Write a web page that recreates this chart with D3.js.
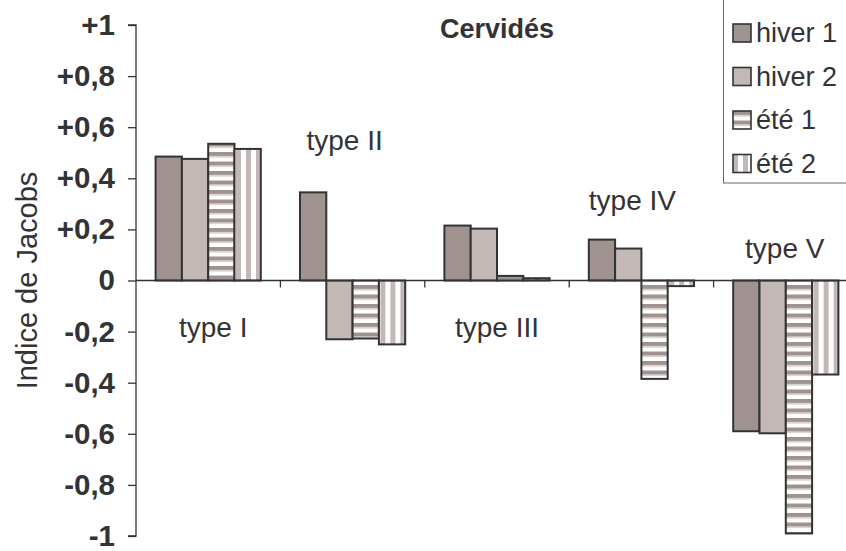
<!DOCTYPE html>
<html>
<head>
<meta charset="utf-8">
<script src="https://cdn.jsdelivr.net/npm/d3@7"></script>
<style>
  body { margin: 0; background: #fff; }
  svg { display: block; font-family: "Liberation Sans", Arial, sans-serif; }
</style>
</head>
<body>
<svg id="chart" width="846" height="551"></svg>
<script>
// categories and series
const categories = ["type I", "type II", "type III", "type IV", "type V"];
const series     = ["hiver 1", "hiver 2", "été 1", "été 2"];

// Jacobs index per category, one array per series
const hiver1 = [0.485, 0.345, 0.215, 0.160, -0.590];
const hiver2 = [0.476, -0.230, 0.203, 0.125, -0.598];
const ete1   = [0.535, -0.227, 0.018, -0.385, -0.990];
const ete2   = [0.515, -0.250, 0.009, -0.022, -0.368];

const yTicks      = [1, 0.8, 0.6, 0.4, 0.2, 0, -0.2, -0.4, -0.6, -0.8, -1];
const yTickLabels = ["+1", "+0,8", "+0,6", "+0,4", "+0,2", "0", "-0,2", "-0,4", "-0,6", "-0,8", "-1"];

// where the "type" annotation sits, in data units
const labelValue = [-0.22, 0.51, -0.22, 0.275, 0.09];
const labelShift = [5, -8, 0, -9, -1];

const values = [hiver1, hiver2, ete1, ete2];
const fills  = ["#a0938f", "#c3b8b5", "url(#hstripe)", "url(#vstripe)"];

const svg = d3.select("#chart");
const ink = "#333336";

const x = d3.scaleBand().domain(categories).range([136, 858]);
const xs = d3.scaleBand().domain(series).range([0, x.bandwidth()]).paddingOuter(0.745);
const y = d3.scaleLinear().domain([-1, 1]).range([536, 25]);

// patterns
const defs = svg.append("defs");
let hp = defs.append("pattern").attr("id", "hstripe")
    .attr("patternUnits", "userSpaceOnUse").attr("width", 10).attr("height", 9.5);
hp.append("rect").attr("width", 10).attr("height", 9.5).attr("fill", "#fff");
hp.append("rect").attr("y", 0).attr("width", 10).attr("height", 4).attr("fill", "#a0938f");
hp.append("rect").attr("y", 4).attr("width", 10).attr("height", 1.5).attr("fill", "#d4cbc8");

let vp = defs.append("pattern").attr("id", "vstripe")
    .attr("patternUnits", "userSpaceOnUse").attr("width", 10).attr("height", 10);
vp.append("rect").attr("width", 10).attr("height", 10).attr("fill", "#fff");
vp.append("rect").attr("x", 0).attr("width", 5).attr("height", 10).attr("fill", "#c3b8b5");

// bars
categories.forEach((c, ci) => {
    svg.append("g")
        .attr("transform", "translate(" + x(c) + ",0)")
        .selectAll("rect")
        .data(series)
        .enter()
        .append("rect")
        .attr("x", s => xs(s))
        .attr("width", xs.bandwidth())
        .attr("y", (s, si) => y(Math.max(0, values[si][ci])))
        .attr("height", (s, si) => Math.abs(y(values[si][ci]) - y(0)))
        .attr("fill", (s, si) => fills[si])
        .attr("stroke", ink)
        .attr("stroke-width", 2);
});

// zero line and category ticks
svg.append("line")
    .attr("x1", 136).attr("x2", 846)
    .attr("y1", y(0)).attr("y2", y(0))
    .attr("stroke", ink).attr("stroke-width", 1.3);
svg.selectAll(".ctick")
    .data(categories.slice(1))
    .enter()
    .append("line")
    .attr("x1", d => x(d)).attr("x2", d => x(d))
    .attr("y1", y(0)).attr("y2", y(0) + 7)
    .attr("stroke", ink).attr("stroke-width", 1.3);

// y axis
let yAxis = svg.append("g")
    .attr("transform", "translate(136,0)")
    .call(d3.axisLeft(y).tickValues(yTicks).tickSize(8).tickPadding(13)
        .tickFormat((d, i) => yTickLabels[i]));
yAxis.select(".domain").attr("stroke", ink).attr("stroke-width", 1.3).attr("d", "M-8," + y(1) + "H0V" + y(-1) + "H-8");
yAxis.selectAll(".tick line").attr("stroke", ink).attr("stroke-width", 1.3);
yAxis.selectAll(".tick text")
    .attr("fill", ink)
    .attr("font-size", 29.5)
    .attr("font-weight", "bold")
    .attr("font-family", "Liberation Sans, Arial, sans-serif");

svg.append("text")
    .attr("transform", "translate(37," + y(0) + ") rotate(-90)")
    .attr("text-anchor", "middle")
    .attr("font-size", 29)
    .attr("fill", ink)
    .text("Indice de Jacobs");

// title
svg.append("text")
    .attr("x", 497).attr("y", 38)
    .attr("text-anchor", "middle")
    .attr("font-size", 27)
    .attr("font-weight", "bold")
    .attr("fill", ink)
    .text("Cervidés");

// type labels
svg.selectAll(".tlabel")
    .data(categories)
    .enter()
    .append("text")
    .attr("x", (d, i) => x(d) + x.bandwidth() / 2 + labelShift[i])
    .attr("y", (d, i) => y(labelValue[i]))
    .attr("text-anchor", "middle")
    .attr("font-size", 28)
    .attr("fill", ink)
    .text(d => d);

// legend
svg.append("rect")
    .attr("x", 723.5).attr("y", -2).attr("width", 140).attr("height", 185)
    .attr("fill", "#fff").attr("stroke", "#666").attr("stroke-width", 1);
let legend = svg.selectAll(".leg")
    .data(series)
    .enter()
    .append("g")
    .attr("transform", (d, i) => "translate(733," + (24 + i * 43.5) + ")");
legend.append("rect")
    .attr("width", 18).attr("height", 18)
    .attr("fill", (d, i) => fills[i])
    .attr("stroke", ink).attr("stroke-width", 1.6);
legend.append("text")
    .attr("x", 23).attr("y", 18)
    .attr("font-size", 27)
    .attr("fill", ink)
    .text(d => d);
</script>
</body>
</html>
